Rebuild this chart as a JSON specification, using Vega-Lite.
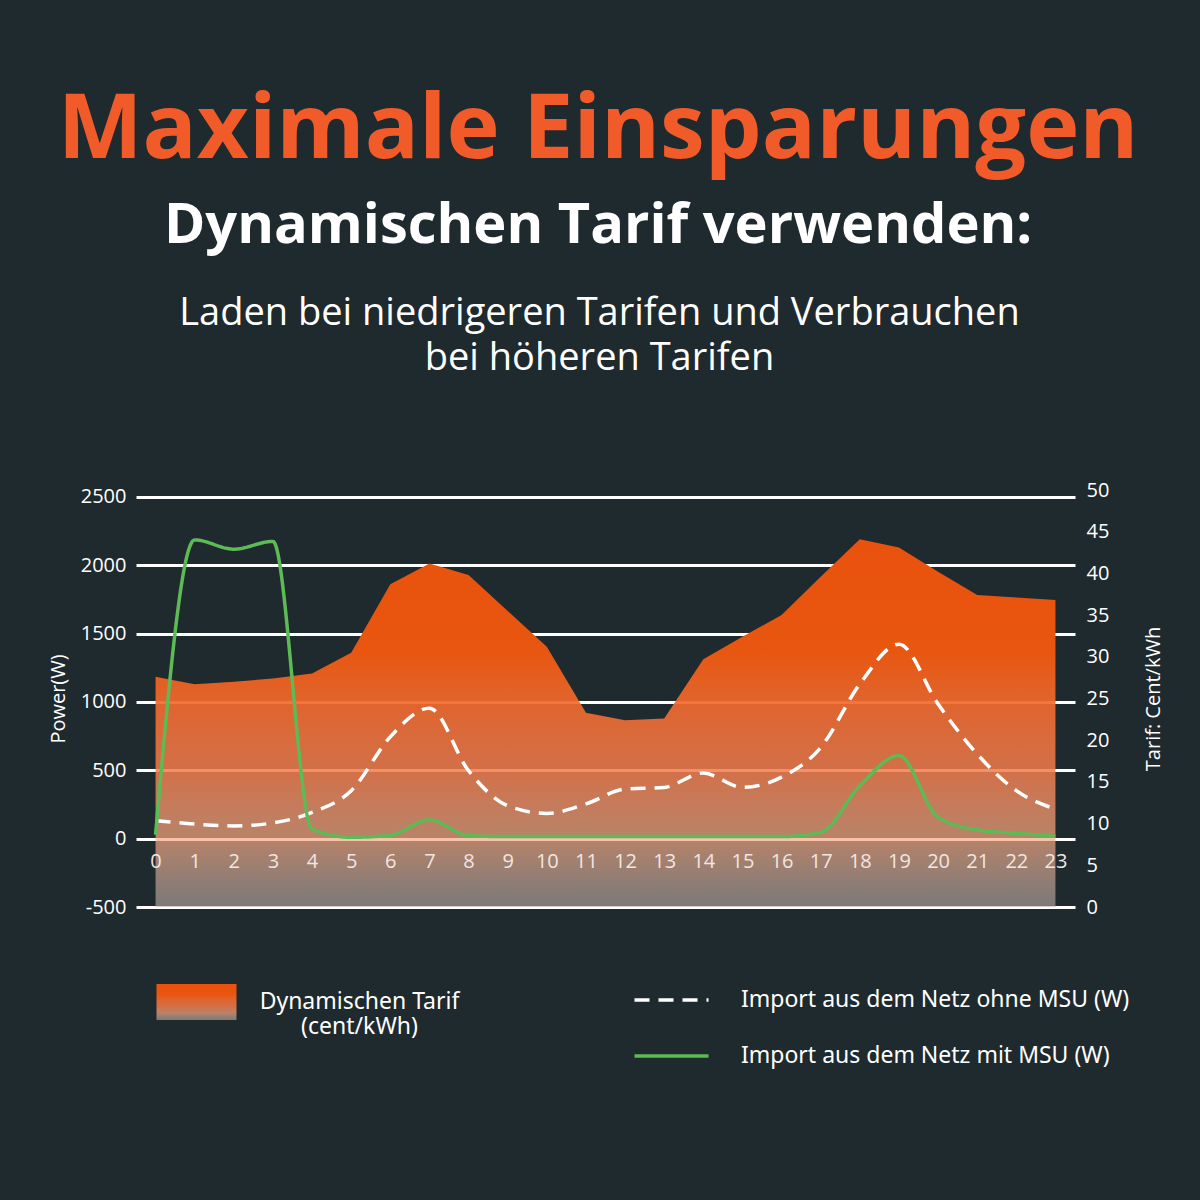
{
  "$schema": "https://vega.github.io/schema/vega-lite/v6.json",
  "background": "#1f2a2e",
  "padding": {"left": 48, "top": 86, "right": 47, "bottom": 141},
  "title": {
    "text": "Maximale Einsparungen",
    "subtitle": "Dynamischen Tarif verwenden:",
    "anchor": "middle",
    "dx": -8,
    "font": "Open Sans",
    "fontSize": 90,
    "fontWeight": 700,
    "color": "#F15A29",
    "subtitleFont": "Open Sans",
    "subtitleFontSize": 56,
    "subtitleFontWeight": 700,
    "subtitleColor": "#ffffff",
    "subtitlePadding": 22,
    "offset": 40
  },
  "datasets": {
    "tarif": [
      {"hour": 0, "tarif": 27.6, "art": "Dynamischen Tarif"},
      {"hour": 1, "tarif": 26.7, "art": "Dynamischen Tarif"},
      {"hour": 2, "tarif": 27.0, "art": "Dynamischen Tarif"},
      {"hour": 3, "tarif": 27.4, "art": "Dynamischen Tarif"},
      {"hour": 4, "tarif": 28.0, "art": "Dynamischen Tarif"},
      {"hour": 5, "tarif": 30.5, "art": "Dynamischen Tarif"},
      {"hour": 6, "tarif": 38.7, "art": "Dynamischen Tarif"},
      {"hour": 7, "tarif": 41.2, "art": "Dynamischen Tarif"},
      {"hour": 8, "tarif": 39.8, "art": "Dynamischen Tarif"},
      {"hour": 9, "tarif": 35.5, "art": "Dynamischen Tarif"},
      {"hour": 10, "tarif": 31.2, "art": "Dynamischen Tarif"},
      {"hour": 11, "tarif": 23.3, "art": "Dynamischen Tarif"},
      {"hour": 12, "tarif": 22.4, "art": "Dynamischen Tarif"},
      {"hour": 13, "tarif": 22.6, "art": "Dynamischen Tarif"},
      {"hour": 14, "tarif": 29.7, "art": "Dynamischen Tarif"},
      {"hour": 15, "tarif": 32.4, "art": "Dynamischen Tarif"},
      {"hour": 16, "tarif": 35.0, "art": "Dynamischen Tarif"},
      {"hour": 17, "tarif": 39.6, "art": "Dynamischen Tarif"},
      {"hour": 18, "tarif": 44.1, "art": "Dynamischen Tarif"},
      {"hour": 19, "tarif": 43.1, "art": "Dynamischen Tarif"},
      {"hour": 20, "tarif": 40.2, "art": "Dynamischen Tarif"},
      {"hour": 21, "tarif": 37.4, "art": "Dynamischen Tarif"},
      {"hour": 22, "tarif": 37.1, "art": "Dynamischen Tarif"},
      {"hour": 23, "tarif": 36.8, "art": "Dynamischen Tarif"}
    ],
    "power": [
      {"hour": 0, "series": "Import aus dem Netz ohne MSU (W)", "power": 132},
      {"hour": 1, "series": "Import aus dem Netz ohne MSU (W)", "power": 107},
      {"hour": 2, "series": "Import aus dem Netz ohne MSU (W)", "power": 93},
      {"hour": 3, "series": "Import aus dem Netz ohne MSU (W)", "power": 115},
      {"hour": 4, "series": "Import aus dem Netz ohne MSU (W)", "power": 192},
      {"hour": 5, "series": "Import aus dem Netz ohne MSU (W)", "power": 351},
      {"hour": 6, "series": "Import aus dem Netz ohne MSU (W)", "power": 745},
      {"hour": 7, "series": "Import aus dem Netz ohne MSU (W)", "power": 955},
      {"hour": 8, "series": "Import aus dem Netz ohne MSU (W)", "power": 497},
      {"hour": 9, "series": "Import aus dem Netz ohne MSU (W)", "power": 241},
      {"hour": 10, "series": "Import aus dem Netz ohne MSU (W)", "power": 185},
      {"hour": 11, "series": "Import aus dem Netz ohne MSU (W)", "power": 254},
      {"hour": 12, "series": "Import aus dem Netz ohne MSU (W)", "power": 363},
      {"hour": 13, "series": "Import aus dem Netz ohne MSU (W)", "power": 375},
      {"hour": 14, "series": "Import aus dem Netz ohne MSU (W)", "power": 480},
      {"hour": 15, "series": "Import aus dem Netz ohne MSU (W)", "power": 375},
      {"hour": 16, "series": "Import aus dem Netz ohne MSU (W)", "power": 450},
      {"hour": 17, "series": "Import aus dem Netz ohne MSU (W)", "power": 667},
      {"hour": 18, "series": "Import aus dem Netz ohne MSU (W)", "power": 1131},
      {"hour": 19, "series": "Import aus dem Netz ohne MSU (W)", "power": 1423},
      {"hour": 20, "series": "Import aus dem Netz ohne MSU (W)", "power": 985},
      {"hour": 21, "series": "Import aus dem Netz ohne MSU (W)", "power": 619},
      {"hour": 22, "series": "Import aus dem Netz ohne MSU (W)", "power": 351},
      {"hour": 23, "series": "Import aus dem Netz ohne MSU (W)", "power": 216},
      {"hour": 0, "series": "Import aus dem Netz mit MSU  (W)", "power": 29},
      {"hour": 1, "series": "Import aus dem Netz mit MSU  (W)", "power": 2186},
      {"hour": 2, "series": "Import aus dem Netz mit MSU  (W)", "power": 2118},
      {"hour": 3, "series": "Import aus dem Netz mit MSU  (W)", "power": 2175},
      {"hour": 4, "series": "Import aus dem Netz mit MSU  (W)", "power": 70},
      {"hour": 5, "series": "Import aus dem Netz mit MSU  (W)", "power": 10},
      {"hour": 6, "series": "Import aus dem Netz mit MSU  (W)", "power": 25},
      {"hour": 7, "series": "Import aus dem Netz mit MSU  (W)", "power": 137},
      {"hour": 8, "series": "Import aus dem Netz mit MSU  (W)", "power": 22},
      {"hour": 9, "series": "Import aus dem Netz mit MSU  (W)", "power": 15},
      {"hour": 10, "series": "Import aus dem Netz mit MSU  (W)", "power": 15},
      {"hour": 11, "series": "Import aus dem Netz mit MSU  (W)", "power": 15},
      {"hour": 12, "series": "Import aus dem Netz mit MSU  (W)", "power": 15},
      {"hour": 13, "series": "Import aus dem Netz mit MSU  (W)", "power": 15},
      {"hour": 14, "series": "Import aus dem Netz mit MSU  (W)", "power": 15},
      {"hour": 15, "series": "Import aus dem Netz mit MSU  (W)", "power": 15},
      {"hour": 16, "series": "Import aus dem Netz mit MSU  (W)", "power": 15},
      {"hour": 17, "series": "Import aus dem Netz mit MSU  (W)", "power": 45},
      {"hour": 18, "series": "Import aus dem Netz mit MSU  (W)", "power": 387},
      {"hour": 19, "series": "Import aus dem Netz mit MSU  (W)", "power": 607},
      {"hour": 20, "series": "Import aus dem Netz mit MSU  (W)", "power": 156},
      {"hour": 21, "series": "Import aus dem Netz mit MSU  (W)", "power": 64},
      {"hour": 22, "series": "Import aus dem Netz mit MSU  (W)", "power": 39},
      {"hour": 23, "series": "Import aus dem Netz mit MSU  (W)", "power": 17}
    ]
  },
  "vconcat": [
    {
      "title": {
        "text": ["Laden bei niedrigeren Tarifen und Verbrauchen", "bei höheren Tarifen"],
        "anchor": "middle",
        "font": "Open Sans",
        "fontSize": 38,
        "fontWeight": 400,
        "color": "#ffffff",
        "lineHeight": 45,
        "offset": 102,
        "dx": -6
      },
      "width": 939,
      "height": 417,
      "layer": [
        {
          "data": {"name": "tarif"},
          "mark": {
            "type": "area",
            "interpolate": "linear",
            "fill": {
              "gradient": "linear",
              "x1": 0, "y1": 0, "x2": 0, "y2": 1,
              "stops": [
                {"offset": 0, "color": "#E8520E"},
                {"offset": 0.3, "color": "#E8560F"},
                {"offset": 0.44, "color": "rgba(241,105,45,0.92)"},
                {"offset": 0.63, "color": "rgba(242,124,77,0.85)"},
                {"offset": 0.81, "color": "rgba(250,168,129,0.7)"},
                {"offset": 1, "color": "rgba(185,175,172,0.6)"}
              ]
            }
          },
          "encoding": {
            "x": {
              "field": "hour", "type": "quantitative",
              "scale": {"domain": [-0.5, 23.5], "nice": false, "zero": false},
              "axis": {
                "orient": "bottom", "offset": -69, "values": [0,1,2,3,4,5,6,7,8,9,10,11,12,13,14,15,16,17,18,19,20,21,22,23],
                "title": null, "domain": false, "ticks": false, "grid": false,
                "labelFont": "Open Sans", "labelFontSize": 20, "labelColor": "#F2E6E0",
                "labelPadding": 13, "labelFlush": false, "labelOverlap": false, "zindex": 2
              }
            },
            "y": {
              "field": "tarif", "type": "quantitative",
              "scale": {"domain": [0, 50], "nice": false, "zero": false},
              "axis": {
                "orient": "right", "values": [0,5,10,15,20,25,30,35,40,45,50],
                "title": "Tarif: Cent/kWh", "titleAngle": 270, "titleFont": "Open Sans", "titleFontSize": 20,
                "titleFontWeight": 400, "titleColor": "#ffffff", "titlePadding": 55,
                "domain": false, "ticks": false, "grid": false,
                "labelFont": "Open Sans", "labelFontSize": 20, "labelColor": "#ffffff", "labelPadding": 11
              }
            },
            "y2": {"datum": 0},
            "opacity": {
              "field": "art", "type": "nominal",
              "scale": {"type": "ordinal", "range": [1]},
              "legend": {
                "orient": "none", "legendX": 40.5, "legendY": 492, "title": null, "padding": 0,
                "symbolType": "M-2,-0.9H2V0.9H-2Z", "symbolSize": 1600, "symbolStrokeWidth": 0,
                "labelFont": "Noto Sans", "labelFontSize": 23, "labelColor": "#ffffff",
                "labelAlign": "center", "labelOffset": 143, "labelLimit": 600,
                "labelExpr": "['Dynamischen Tarif', '(cent/kWh)']",
                "encode": {
                  "symbols": {"update": {"fill": {"value": {
                    "gradient": "linear", "x1": 0, "y1": 0, "x2": 0, "y2": 1,
                    "stops": [
                      {"offset": 0, "color": "#E9550F"},
                      {"offset": 0.4, "color": "#E56A30"},
                      {"offset": 1, "color": "#8E8886"}
                    ]}}, "opacity": {"value": 1}, "strokeWidth": {"value": 0}}},
                  "labels": {"update": {"dy": {"value": 14}, "lineHeight": {"value": 29}}}
                }
              }
            }
          }
        },
        {
          "data": {"name": "power"},
          "mark": {"type": "line", "interpolate": "monotone", "strokeWidth": 3.5},
          "encoding": {
            "x": {"field": "hour", "type": "quantitative"},
            "y": {
              "field": "power", "type": "quantitative",
              "scale": {"domain": [-500, 2551], "nice": false, "zero": false},
              "axis": {
                "orient": "left", "values": [-500, 0, 500, 1000, 1500, 2000, 2500],
                "labelExpr": "'' + datum.value",
                "title": "Power(W)", "titleFont": "Open Sans", "titleFontSize": 20, "titleFontWeight": 400,
                "titleColor": "#ffffff", "titlePadding": 12,
                "domain": false, "ticks": false, "grid": true, "gridColor": "#ffffff", "gridWidth": 3, "gridOpacity": 1,
                "labelFont": "Open Sans", "labelFontSize": 20, "labelColor": "#ffffff", "labelPadding": 10, "zindex": 0
              }
            },
            "color": {
              "field": "series", "type": "nominal",
              "scale": {"domain": ["Import aus dem Netz ohne MSU (W)", "Import aus dem Netz mit MSU  (W)"], "range": ["#ffffff", "#5CBB55"]},
              "legend": {
                "orient": "none", "legendX": 515, "legendY": 489.5, "title": null, "padding": 0,
                "symbolType": "M-2,0H2", "symbolSize": 1369, "symbolStrokeWidth": 3.5,
                "rowPadding": 23, "labelOffset": 49,
                "labelFont": "Noto Sans", "labelFontSize": 23, "labelColor": "#ffffff", "labelLimit": 600
              }
            },
            "strokeDash": {
              "field": "series", "type": "nominal",
              "scale": {"domain": ["Import aus dem Netz ohne MSU (W)", "Import aus dem Netz mit MSU  (W)"], "range": [[15, 9], [1, 0]]}
            }
          }
        }
      ],
      "resolve": {"scale": {"y": "independent"}}
    }
  ],
  "config": {
    "view": {"stroke": null},
    "font": "Open Sans"
  }
}
